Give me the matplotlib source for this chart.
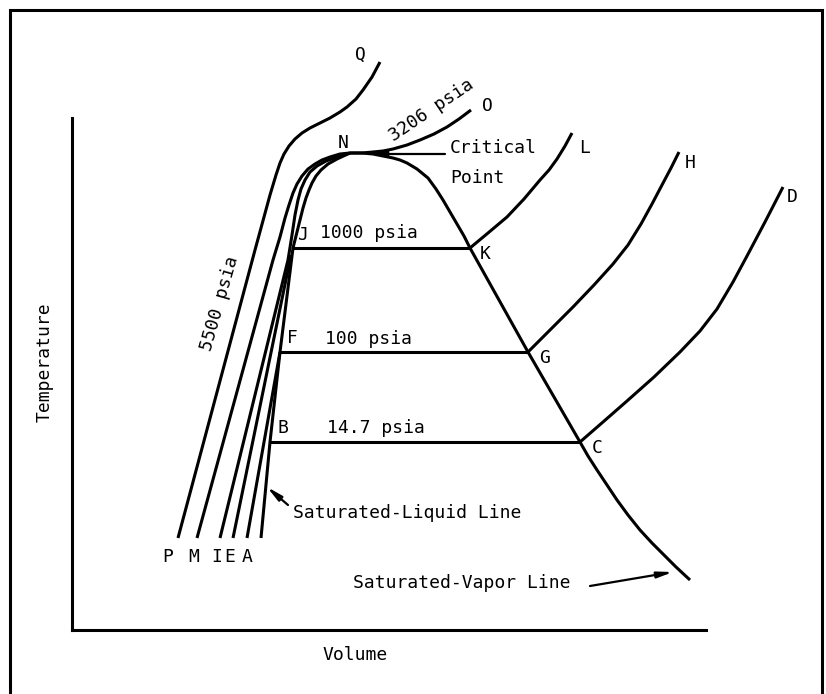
import matplotlib.pyplot as plt
from matplotlib.patches import Rectangle

# T-v diagram for water, arbitrary units (volume, temperature)
# compressed-liquid / supercritical isobars
p5500_v = [106, 183, 198, 204, 208, 212, 217, 223, 230, 238, 248, 258, 268, 275, 284, 291, 300, 308]
p5500_t = [92, 380, 435, 455, 467, 476, 484, 491, 497, 502, 507, 512, 518, 523, 531, 540, 553, 568]

p3206_v = [125, 201, 208, 213, 217, 221, 225, 230, 236, 243, 250, 258, 268, 278,
           290, 301, 311, 321, 335, 348, 362, 375, 387, 399]
p3206_t = [92, 370, 393, 412, 425, 437, 446, 454, 461, 466, 470, 473, 476, 477,
           477, 478, 479, 481, 485, 490, 496, 503, 511, 520]

p1000_liq_v = [148, 216, 220, 223, 226, 229, 233, 238, 245, 254, 265, 278]
p1000_liq_t = [92, 370, 395, 415, 430, 441, 450, 458, 464, 469, 473, 477]

p100_liq_v = [161, 219]
p100_liq_t = [92, 375]

p14_liq_v = [175, 208]
p14_liq_t = [92, 278]

# saturation dome
satliq_v = [189, 198, 208, 221, 225, 228, 231, 234, 237, 240, 244, 249, 256, 265, 278]
satliq_t = [92, 188, 278, 382, 398, 410, 422, 432, 440, 447, 454, 460, 466, 471, 477]

satvap_v = [278, 290, 301, 311, 321, 328, 335, 345, 356, 364, 371, 378, 385, 392, 398,
            456, 508, 516, 525, 535, 545, 556, 568, 580, 591, 604, 618]
satvap_t = [477, 477, 476, 474, 472, 470, 467, 461, 452, 441, 430, 418, 406, 394, 382,
            278, 188, 174, 160, 145, 130, 115, 100, 87, 76, 63, 50]

# two-phase lines (v_f, v_g, T_sat)
mix_vf = [198, 208, 221]
mix_vg = [508, 456, 398]
mix_t = [188, 278, 382]

# superheated vapor isobars
p1000_vap_v = [398, 416, 435, 452, 468, 477, 485, 493, 500]
p1000_vap_t = [382, 397, 413, 431, 450, 460, 471, 484, 497]
p100_vap_v = [456, 478, 501, 522, 541, 556, 569, 580, 590, 599, 607]
p100_vap_t = [278, 300, 323, 345, 366, 385, 406, 426, 445, 462, 478]
p14_vap_v = [508, 531, 555, 582, 608, 628, 645, 661, 675, 693, 711]
p14_vap_t = [188, 208, 229, 253, 278, 299, 321, 348, 374, 408, 443]

fig = plt.figure(figsize=(8.26, 6.94), dpi=100)
ax = fig.add_axes([72 / 826, 64 / 694, 634 / 826, 512 / 694])
ax.set_xlim(0, 634)
ax.set_ylim(0, 512)
for s in ['top', 'right']:
    ax.spines[s].set_visible(False)
for s in ['left', 'bottom']:
    ax.spines[s].set_linewidth(2.2)
ax.set_xticks([])
ax.set_yticks([])

lw = 2.2
kw = dict(color='black', lw=lw, clip_on=False, solid_joinstyle='round', solid_capstyle='butt')
curves = [
    (p5500_v, p5500_t), (p3206_v, p3206_t), (p1000_liq_v, p1000_liq_t),
    (p100_liq_v, p100_liq_t), (p14_liq_v, p14_liq_t),
    (satliq_v, satliq_t), (satvap_v, satvap_t),
    (p1000_vap_v, p1000_vap_t), (p100_vap_v, p100_vap_t), (p14_vap_v, p14_vap_t),
]
for v, t in curves:
    ax.plot(v, t, **kw)
for vf, vg, t in zip(mix_vf, mix_vg, mix_t):
    ax.plot([vf, vg], [t, t], **kw)

font = dict(family='DejaVu Sans Mono', fontsize=13, color='black')

def label(v, t, s, ha='center', va='center', rot=0):
    ax.text(v, t, s, ha=ha, va=va, rotation=rot, rotation_mode='anchor', clip_on=False, **font)

label(288, 575, 'Q')
label(415, 524, 'O')
label(360, 520, '3206 psia', rot=34)
label(271, 487, 'N')
label(378, 482, 'Critical', ha='left')
label(378, 452, 'Point', ha='left')
label(513, 482, 'L')
label(618, 467, 'H')
label(720, 433, 'D')
label(230, 395, 'J')
label(248, 397, '1000 psia', ha='left')
label(413, 376, 'K')
label(220, 292, 'F')
label(253, 291, '100 psia', ha='left')
label(473, 272, 'G')
label(211, 202, 'B')
label(255, 202, '14.7 psia', ha='left')
label(525, 182, 'C')
label(148, 327, '5500 psia', rot=74)
label(221, 117, 'Saturated-Liquid Line', ha='left')
label(281, 47, 'Saturated-Vapor Line', ha='left')

end_letters = ['P', 'M', 'I', 'E', 'A']
end_pos = [96, 122, 145, 158, 175]
for s, v in zip(end_letters, end_pos):
    label(v, 73, s)

label(-27, 268, 'Temperature', rot=90)
label(283, -25, 'Volume')

arrow = dict(arrowstyle='-|>,head_length=0.9,head_width=0.18', color='black', lw=1.6,
             shrinkA=0, shrinkB=0)
ax.annotate('', xy=(298, 476), xytext=(373, 476), arrowprops=arrow, annotation_clip=False)
ax.annotate('', xy=(195, 143), xytext=(216, 125), arrowprops=arrow, annotation_clip=False)
ax.annotate('', xy=(601, 58), xytext=(518, 44), arrowprops=arrow, annotation_clip=False)

# drawing border
fig.patches.append(Rectangle((10 / 826, -0.02), 812 / 826, (684 / 694) + 0.02,
                             transform=fig.transFigure, fill=False, lw=2.2,
                             edgecolor='black'))

fig.savefig('out.png', dpi=100)
